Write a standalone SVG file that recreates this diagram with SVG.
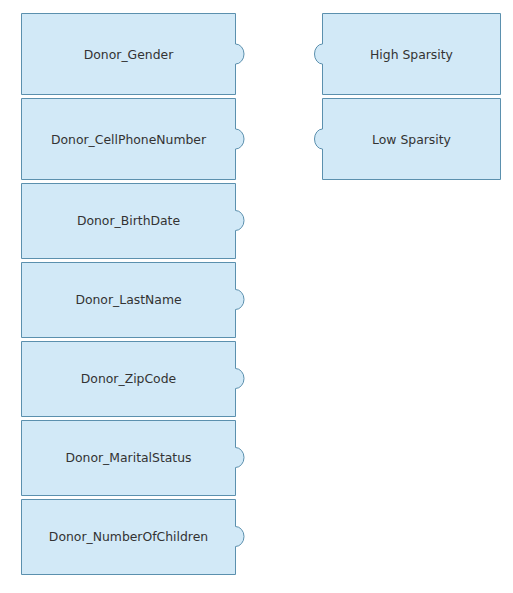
<svg xmlns="http://www.w3.org/2000/svg" width="513" height="593" viewBox="0 0 513 593">
<style>
.box{fill:#d2e9f7;stroke:#5b90ae;stroke-width:1}
.lbl{font-family:"DejaVu Sans",sans-serif;font-size:12.4px;fill:#333;text-anchor:middle}
</style>
<rect width="513" height="593" fill="#fff"/>
<g id="Donor_Gender"><path class="box" d="M21.5,13.5H235.5V44A8.5,10 0 0 1 235.5,64V94.5H21.5Z"/><text class="lbl" x="128.5" y="58.5">Donor_Gender</text></g>
<g id="Donor_CellPhoneNumber"><path class="box" d="M21.5,98.5H235.5V129A8.5,10 0 0 1 235.5,149V179.5H21.5Z"/><text class="lbl" x="128.5" y="143.5">Donor_CellPhoneNumber</text></g>
<g id="Donor_BirthDate"><path class="box" d="M21.5,183.5H235.5V210.5A8.5,10 0 0 1 235.5,230.5V258.5H21.5Z"/><text class="lbl" x="128.5" y="225">Donor_BirthDate</text></g>
<g id="Donor_LastName"><path class="box" d="M21.5,262.5H235.5V289.5A8.5,10 0 0 1 235.5,309.5V337.5H21.5Z"/><text class="lbl" x="128.5" y="304">Donor_LastName</text></g>
<g id="Donor_ZipCode"><path class="box" d="M21.5,341.5H235.5V368.5A8.5,10 0 0 1 235.5,388.5V416.5H21.5Z"/><text class="lbl" x="128.5" y="383">Donor_ZipCode</text></g>
<g id="Donor_MaritalStatus"><path class="box" d="M21.5,420.5H235.5V447.5A8.5,10 0 0 1 235.5,467.5V495.5H21.5Z"/><text class="lbl" x="128.5" y="462">Donor_MaritalStatus</text></g>
<g id="Donor_NumberOfChildren"><path class="box" d="M21.5,499.5H235.5V526.5A8.5,10 0 0 1 235.5,546.5V574.5H21.5Z"/><text class="lbl" x="128.5" y="541">Donor_NumberOfChildren</text></g>
<g id="High_Sparsity"><path class="box" d="M322.5,13.5H500.5V94.5H322.5V64A8,10 0 0 1 322.5,44Z"/><text class="lbl" x="411.5" y="58.5">High Sparsity</text></g>
<g id="Low_Sparsity"><path class="box" d="M322.5,98.5H500.5V179.5H322.5V149A8,10 0 0 1 322.5,129Z"/><text class="lbl" x="411.5" y="143.5">Low Sparsity</text></g>
<g id="connectors"></g>
</svg>
